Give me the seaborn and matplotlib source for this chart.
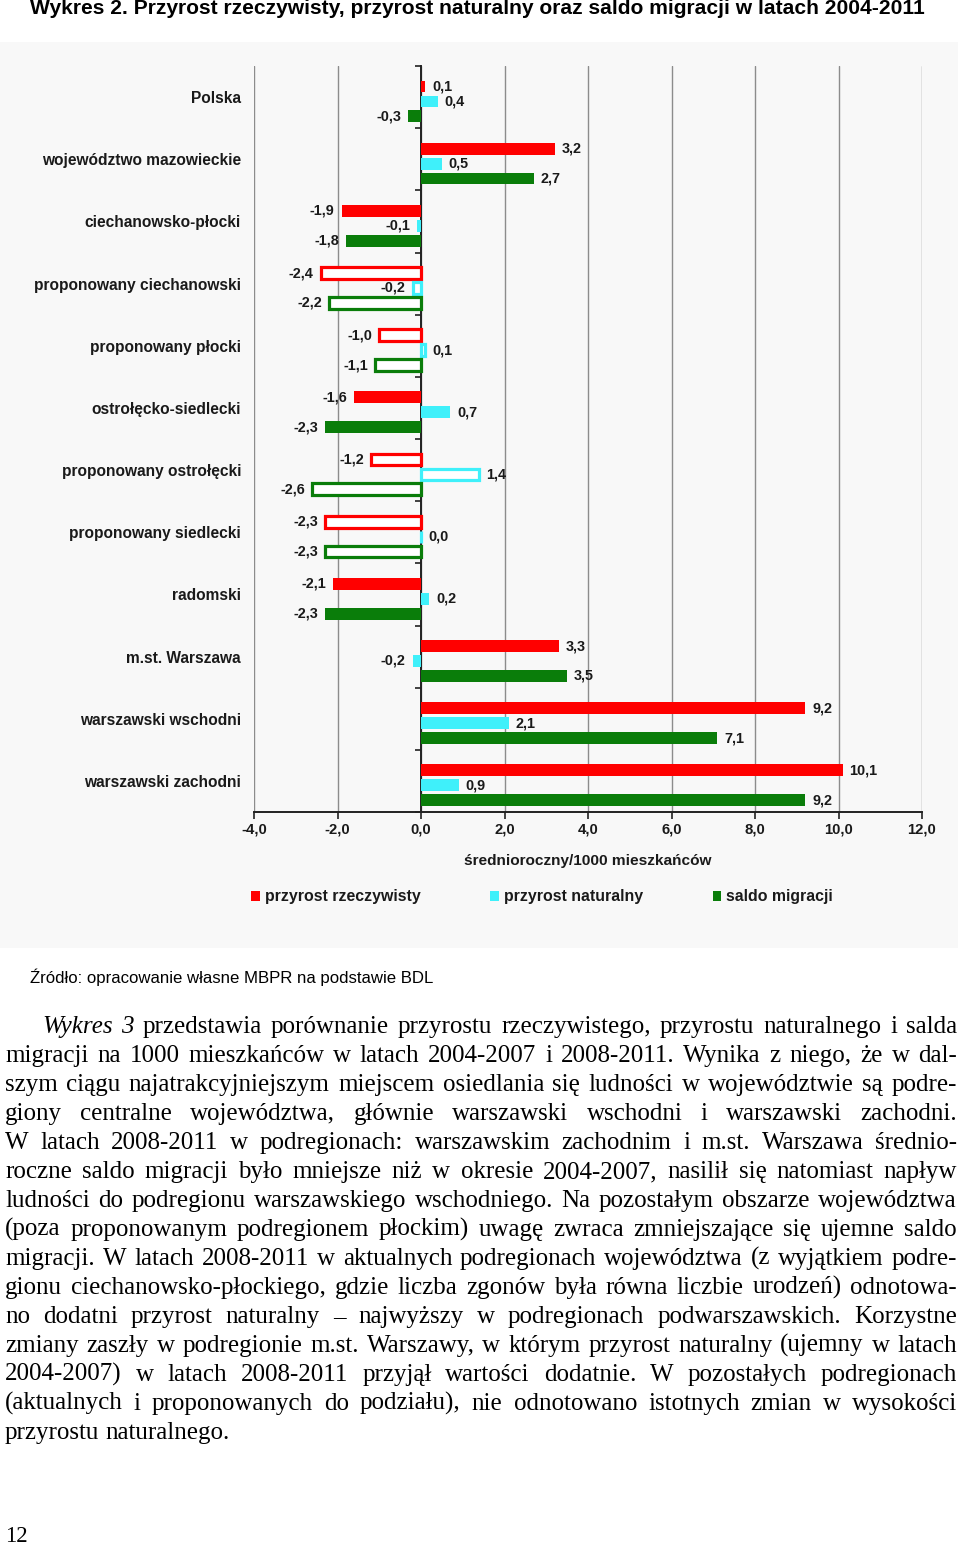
import numpy as np
import pandas as pd
import matplotlib
matplotlib.use('Agg')
import matplotlib.pyplot as plt
import matplotlib.patches as mpatches
from matplotlib import font_manager
import seaborn as sns

# ── Data ─────────────────────────────────────
regions = ['Polska', 'województwo mazowieckie', 'ciechanowsko-płocki',
           'proponowany ciechanowski', 'proponowany płocki',
           'ostrołęcko-siedlecki', 'proponowany ostrołęcki',
           'proponowany siedlecki', 'radomski', 'm.st. Warszawa',
           'warszawski wschodni', 'warszawski zachodni']
przyrost_rzecz = [0.1, 3.2, -1.9, -2.4, -1.0, -1.6, -1.2, -2.3, -2.1, 3.3, 9.2, 10.1]
przyrost_nat   = [0.4, 0.5, -0.1, -0.2, 0.1, 0.7, 1.4, 0.0, 0.2, -0.2, 2.1, 0.9]
saldo_migr     = [-0.3, 2.7, -1.8, -2.2, -1.1, -2.3, -2.6, -2.3, -2.3, 3.5, 7.1, 9.2]
proposed       = [False, False, False, True, True, False, True, True,
                  False, False, False, False]
series = ['przyrost rzeczywisty', 'przyrost naturalny', 'saldo migracji']
COLORS = ['#ff0000', '#3ff0fa', '#0a7d0a']
xticks = [-4, -2, 0, 2, 4, 6, 8, 10, 12]

df = pd.DataFrame({'region': regions,
                   series[0]: przyrost_rzecz,
                   series[1]: przyrost_nat,
                   series[2]: saldo_migr})
df = df.melt(id_vars='region', var_name='series', value_name='value')

title = ('Wykres 2. Przyrost rzeczywisty, przyrost naturalny oraz saldo '
         'migracji w latach 2004-2011')
source = 'Źródło: opracowanie własne MBPR na podstawie BDL'
paragraph = [
    'Wykres 3 przedstawia porównanie przyrostu rzeczywistego, przyrostu naturalnego i salda',
    'migracji na 1000 mieszkańców w latach 2004-2007 i 2008-2011. Wynika z niego, że w dal-',
    'szym ciągu najatrakcyjniejszym miejscem osiedlania się ludności w województwie są podre-',
    'giony centralne województwa, głównie warszawski wschodni i warszawski zachodni.',
    'W latach 2008-2011 w podregionach: warszawskim zachodnim i m.st. Warszawa średnio-',
    'roczne saldo migracji było mniejsze niż w okresie 2004-2007, nasilił się natomiast napływ',
    'ludności do podregionu warszawskiego wschodniego. Na pozostałym obszarze województwa',
    '(poza proponowanym podregionem płockim) uwagę zwraca zmniejszające się ujemne saldo',
    'migracji. W latach 2008-2011 w aktualnych podregionach województwa (z wyjątkiem podre-',
    'gionu ciechanowsko-płockiego, gdzie liczba zgonów była równa liczbie urodzeń) odnotowa-',
    'no dodatni przyrost naturalny – najwyższy w podregionach podwarszawskich. Korzystne',
    'zmiany zaszły w podregionie m.st. Warszawy, w którym przyrost naturalny (ujemny w latach',
    '2004-2007) w latach 2008-2011 przyjął wartości dodatnie. W pozostałych podregionach',
    '(aktualnych i proponowanych do podziału), nie odnotowano istotnych zmian w wysokości',
    'przyrostu naturalnego.',
]

# ── Style ────────────────────────────────────
sns.set_theme(style='white')
installed = {f.name for f in font_manager.fontManager.ttflist}
SANS = ['Liberation Sans', 'DejaVu Sans']
NARROW = (['Liberation Sans Narrow'] if 'Liberation Sans Narrow' in installed else []) + SANS
SERIF = ['Liberation Serif', 'DejaVu Serif']
plt.rcParams['font.family'] = SANS

W, H = 960, 1545
fig = plt.figure(figsize=(W / 100, H / 100), dpi=100)
fig.patch.set_facecolor('white')
renderer = fig.canvas.get_renderer()


def px(x, y):
    return x / W, 1 - y / H


def text_width(s, size, **kw):
    t = fig.text(0, 0, s, fontsize=size, **kw)
    w = t.get_window_extent(renderer).width
    t.remove()
    return w


def fit(s, target, **kw):
    return 10 * target / text_width(s, 10, **kw)


# light chart background
fig.patches.append(mpatches.Rectangle(px(0, 948), 958 / W, 906 / H,
                                      transform=fig.transFigure,
                                      facecolor='#f8f8f8', edgecolor='none',
                                      zorder=-10))

# ── Chart ────────────────────────────────────
ax = fig.add_axes([254 / W, 1 - 812 / H, 668 / W, 746 / H])
ax.set_zorder(2)
ax.set_facecolor('none')
sns.barplot(data=df, x='value', y='region', hue='series', orient='h',
            palette=COLORS, width=0.72, saturation=1, errorbar=None,
            legend=False, ax=ax, zorder=3)

for ci, cont in enumerate(ax.containers):
    for ri, bar in enumerate(cont):
        c = bar.get_y() + bar.get_height() / 2 + 0.07
        bar.set_height(0.19)
        bar.set_y(c - 0.095)
        bar.set_linewidth(0)
        if proposed[ri]:
            bar.set_facecolor('white')
            bar.set_edgecolor(COLORS[ci])
            bar.set_linewidth(2.3)

val_size = fit('3,2', 20, fontweight='bold')
for cont in ax.containers:
    vals = [b.get_width() for b in cont]
    ax.bar_label(cont, labels=[f'{v:.1f}'.replace('.', ',') for v in vals],
                 padding=5, fontsize=val_size, fontweight='bold', color='#1a1a1a')

ax.set_xlim(-4, 12)
ax.set_xticks(xticks)
ax.set_xticklabels([f'{v:.1f}'.replace('.', ',') for v in xticks])
ax.grid(axis='x', color='#8c8c8c', linewidth=1, zorder=0)
ax.set_axisbelow(True)

for s in ['top', 'right']:
    ax.spines[s].set_visible(False)
ax.spines['left'].set_position(('data', 0))
ax.spines['left'].set_color('#222')
ax.spines['left'].set_linewidth(1.4)
ax.spines['bottom'].set_color('#222')
ax.spines['bottom'].set_linewidth(1.4)

cat_size = fit('województwo mazowieckie', 199, fontweight='bold')
tick_size = fit('10,0', 29, fontweight='bold')
ax.set_yticks(np.arange(-0.5, len(regions), 1), minor=True)
ax.tick_params(axis='y', which='major', length=0, pad=180 * 0.72,
               labelsize=cat_size, labelcolor='#1a1a1a')
ax.tick_params(axis='y', which='minor', length=4, width=1.2,
               direction='out', color='#222', left=True)
ax.tick_params(axis='x', which='major', length=5, width=1.2, direction='out',
               color='#222', bottom=True, labelsize=tick_size,
               labelcolor='#1a1a1a', pad=2.5)
for lab in ax.get_yticklabels() + ax.get_xticklabels():
    lab.set_fontweight('bold')
ax.set_ylabel('')
ax.set_xlabel('średnioroczny/1000 mieszkańców',
              fontsize=fit('średnioroczny/1000 mieszkańców', 246, fontweight='bold'),
              fontweight='bold', color='#1a1a1a', labelpad=13)

leg_size = fit('przyrost rzeczywisty', 155, fontweight='bold')
handles = [mpatches.Patch(facecolor=c, edgecolor='none') for c in COLORS]
leg = fig.legend(handles, series, loc='center', bbox_to_anchor=px(542, 897),
                 ncol=3, frameon=False, handlelength=0.55, handleheight=0.55,
                 handletextpad=0.3, columnspacing=4.4,
                 prop={'size': leg_size, 'weight': 'bold'})
for t in leg.get_texts():
    t.set_color('#1a1a1a')

# ── Page text ────────────────────────────────
fig.text(*px(30, 9), title, va='center', ha='left', color='black',
         fontweight='bold', family=NARROW,
         fontsize=fit(title, 895, fontweight='bold', family=NARROW))
fig.text(*px(30, 977), source, va='center', ha='left', color='black',
         family=NARROW, fontsize=fit(source, 402, family=NARROW))

p_size = fit('przyrostu naturalnego.', 225, family=SERIF)
widest = max(text_width(l, p_size, family=SERIF) for l in paragraph[1:])
p_size = min(p_size, p_size * 945 / widest)
space_w = (text_width('a a', p_size, family=SERIF)
           - text_width('aa', p_size, family=SERIF))
for i, line in enumerate(paragraph):
    words = line.split(' ')
    styles = ['italic' if (i == 0 and k < 2) else 'normal'
              for k in range(len(words))]
    widths = [text_width(w, p_size, family=SERIF, style=st)
              for w, st in zip(words, styles)]
    x0 = 42 if i == 0 else 5
    x1 = 957
    if i == len(paragraph) - 1:
        gap = space_w
    else:
        gap = (x1 - x0 - sum(widths)) / (len(words) - 1)
    x = x0
    base = 1033 + 29 * i
    for w, st, wd in zip(words, styles, widths):
        fig.text(*px(x, base), w, va='baseline', ha='left', color='black',
                 family=SERIF, style=st, fontsize=p_size)
        x += wd + gap

fig.text(*px(5, 1542), '12', va='baseline', ha='left', color='black',
         family=SERIF, fontsize=fit('12', 23, family=SERIF))

plt.savefig('out.png', dpi=100)
plt.close()
